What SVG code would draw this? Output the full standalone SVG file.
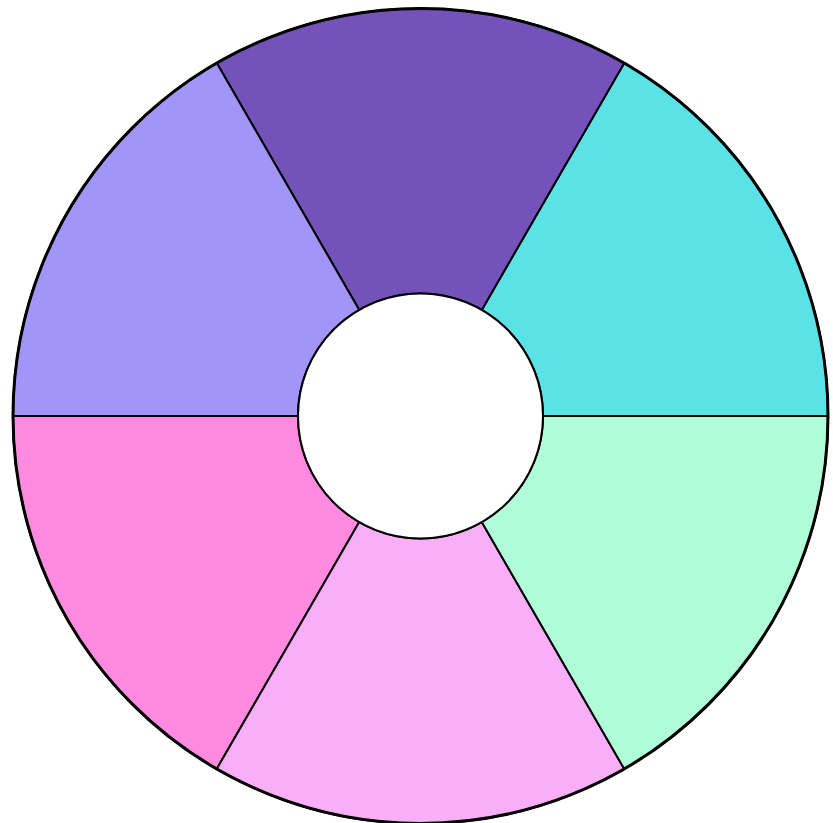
<svg xmlns="http://www.w3.org/2000/svg" width="833" height="823" viewBox="0 0 833 823">
<style>
.seg{stroke:#000;stroke-width:2;stroke-linejoin:round}
</style>
<rect width="833" height="823" fill="#fff"/>
<g id="seg-top-right"><path class="seg" fill="#5BE2E6" d="M 828 416 A 407.5 407.5 0 0 0 624.25 63.09 L 481.75 309.91 A 122.5 122.5 0 0 1 543 416 Z"/></g>
<g id="seg-top"><path class="seg" fill="#7352BA" d="M 624.25 63.09 A 407.5 407.5 0 0 0 216.75 63.09 L 359.25 309.91 A 122.5 122.5 0 0 1 481.75 309.91 Z"/></g>
<g id="seg-top-left"><path class="seg" fill="#A395F7" d="M 216.75 63.09 A 407.5 407.5 0 0 0 13 416 L 298 416 A 122.5 122.5 0 0 1 359.25 309.91 Z"/></g>
<g id="seg-bottom-left"><path class="seg" fill="#FF8ADF" d="M 13 416 A 407.5 407.5 0 0 0 216.75 768.91 L 359.25 522.09 A 122.5 122.5 0 0 1 298 416 Z"/></g>
<g id="seg-bottom"><path class="seg" fill="#F9AEF8" d="M 216.75 768.91 A 407.5 407.5 0 0 0 624.25 768.91 L 481.75 522.09 A 122.5 122.5 0 0 1 359.25 522.09 Z"/></g>
<g id="seg-bottom-right"><path class="seg" fill="#B0FCD8" d="M 624.25 768.91 A 407.5 407.5 0 0 0 828 416 L 543 416 A 122.5 122.5 0 0 1 481.75 522.09 Z"/></g>
<g id="rims">
<circle cx="420.5" cy="416" r="407.5" fill="none" stroke="#000" stroke-width="3"/>
<circle cx="420.5" cy="416" r="122.5" fill="#fff" stroke="#000" stroke-width="2"/>
</g>
</svg>
